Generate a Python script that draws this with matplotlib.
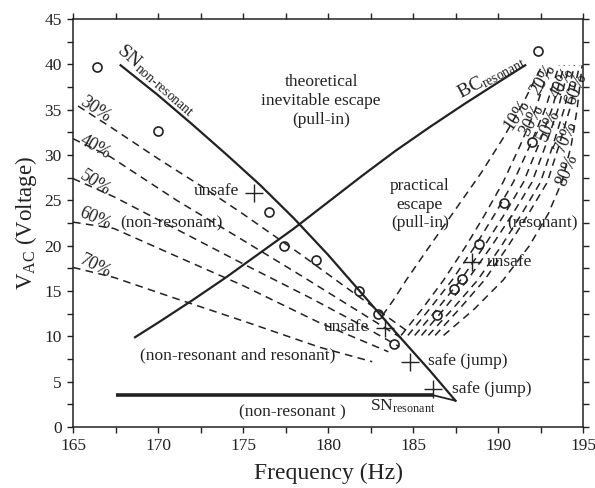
import matplotlib
matplotlib.use('Agg')
import matplotlib.pyplot as plt
from matplotlib.ticker import MultipleLocator

plt.rcParams['font.family'] = ['Liberation Serif', 'DejaVu Serif']
plt.rcParams['mathtext.fontset'] = 'custom'
plt.rcParams['mathtext.rm'] = 'Liberation Serif'
plt.rcParams['mathtext.it'] = 'Liberation Serif:italic'

# curvas teoricas
sn_nonres_f = [167.8, 170.0, 172.0, 174.0, 176.0, 178.0, 180.0, 182.0, 184.0, 186.0, 187.5]
sn_nonres_v = [39.9, 36.6, 33.4, 30.1, 26.7, 23.0, 19.0, 14.7, 10.4, 6.2, 2.9]

sn_res_f = [167.5, 186.2]
sn_res_v = [3.5, 3.5]
sn_tip_f = [186.2, 187.5]
sn_tip_v = [3.5, 2.9]

bc_f = [168.65, 170.0, 172.0, 174.0, 176.0, 178.0, 180.0, 182.0, 184.0, 186.0, 188.0, 190.0, 191.6]
bc_v = [9.9, 11.5, 13.95, 16.5, 19.2, 21.9, 24.8, 27.7, 30.5, 33.1, 35.6, 38.0, 39.9]

# familia no resonante (discontinuas)
izq = {
    '30%': ([165.3, 167.2, 170.0, 172.6, 175.0, 178.5, 181.5, 184.8],
            [35.4, 33.1, 29.6, 26.5, 23.5, 18.9, 14.8, 10.4]),
    '40%': ([165.0, 167.2, 171.1, 175.0, 178.5, 181.5, 184.5],
            [31.8, 29.8, 25.0, 20.6, 16.6, 13.1, 9.6]),
    '50%': ([165.0, 167.4, 171.0, 175.0, 179.0, 182.0, 184.2],
            [27.4, 25.4, 21.9, 18.0, 14.2, 11.2, 8.85]),
    '60%': ([165.0, 167.4, 171.0, 175.0, 179.5, 183.55],
            [22.6, 21.9, 18.9, 15.6, 11.5, 8.3]),
    '70%': ([165.0, 167.4, 171.0, 175.0, 179.5, 182.6],
            [17.6, 16.5, 14.2, 11.7, 8.8, 7.2]),
}
izq_lab_f = [166.3, 166.3, 166.3, 166.3, 166.3]
izq_lab_v = [35.0, 30.9, 26.9, 23.0, 17.75]
izq_lab_rot = [-34, -29, -33, -24, -27]

# familia resonante (discontinuas)
der_v = [10.1, 13.0, 16.2, 20.0, 23.5, 27.0, 31.0, 35.0, 39.9]
der = {
    '10%': ([183.2, 183.85, 184.6, 186.0, 187.5, 189.0, 190.35, 191.55, 192.6],
            [12.3, 14.0, 16.2, 20.0, 24.0, 28.0, 32.0, 36.0, 39.9]),
    '20%': ([184.3, 185.53, 186.8, 188.13, 189.25, 190.3, 191.29, 192.2, 193.05], der_v),
    '30%': ([184.7, 185.97, 187.3, 188.67, 189.82, 190.9, 191.87, 192.76, 193.6], der_v),
    '40%': ([185.1, 186.42, 187.8, 189.21, 190.39, 191.5, 192.36, 193.16, 193.9], der_v),
    '50%': ([185.5, 186.82, 188.2, 189.64, 190.86, 192.0, 192.79, 193.52, 194.2], der_v),
    '60%': ([185.9, 187.32, 188.8, 190.21, 191.39, 192.5, 193.22, 193.88, 194.5], der_v),
    '70%': ([186.3, 187.72, 189.2, 190.61, 191.79, 192.9, 193.58, 194.21, 194.8], der_v),
    '80%': ([186.8, 188.6, 190.3, 191.85, 192.95, 193.75, 194.3, 194.65, 194.95], der_v),
}
der_lab_f = [191.1, 192.66, 192.0, 193.8, 192.96, 194.6, 194.0, 194.07]
der_lab_v = [34.4, 38.3, 33.85, 37.9, 33.3, 37.3, 32.1, 28.3]
der_lab_rot = [56, 58, 62, 62, 65, 68, 67, 68]

# experimentos
exp_f = [166.4, 170.0, 176.5, 177.4, 179.3, 181.85, 182.96, 183.9, 186.4, 187.43, 187.9, 188.9, 190.37, 191.98, 192.37]
exp_v = [39.7, 32.6, 23.7, 19.95, 18.4, 15.0, 12.45, 9.1, 12.35, 15.2, 16.3, 20.2, 24.7, 31.45, 41.5]

cruz_f = [175.67, 183.35, 184.8, 186.2, 188.45]
cruz_v = [25.8, 10.9, 7.2, 4.15, 18.2]

col = '#222222'
fig = plt.figure(figsize=(5.95, 4.88), dpi=100)
ax = fig.add_axes([73/595, 61/488, 510/595, 408/488])

ax.plot(sn_nonres_f, sn_nonres_v, color=col, lw=1.6)
ax.plot(sn_res_f, sn_res_v, color=col, lw=2.6, solid_capstyle='butt')
ax.plot(sn_tip_f, sn_tip_v, color=col, lw=1.3)
ax.plot(bc_f, bc_v, color=col, lw=1.6)

for k in izq:
    ax.plot(izq[k][0], izq[k][1], color=col, lw=1.1, dashes=(5, 3.5))
for k in der:
    ax.plot(der[k][0], der[k][1], color=col, lw=1.1, dashes=(5, 3.5))

ax.plot(exp_f, exp_v, 'o', ms=6.5, mfc='none', mec=col, mew=1.2)
ax.plot(cruz_f, cruz_v, '+', ms=13, mec=col, mew=1.0)

fs = 12.5
pfs = 13
for i, k in enumerate(izq):
    ax.text(izq_lab_f[i], izq_lab_v[i], k, fontsize=pfs, rotation=izq_lab_rot[i],
            ha='center', va='center', color=col)
for i, k in enumerate(der):
    ax.text(der_lab_f[i], der_lab_v[i], k, fontsize=pfs, rotation=der_lab_rot[i],
            ha='center', va='center', color=col)

ax.text(169.9, 38.3, 'SN$_{\\mathrm{non‐resonant}}$', fontsize=14, rotation=-41,
        ha='center', va='center', color=col)
ax.text(189.6, 38.6, 'BC$_{\\mathrm{resonant}}$', fontsize=14, rotation=28,
        ha='center', va='center', color=col)
ax.text(179.6, 36.0, 'theoretical\ninevitable escape\n(pull-in)', fontsize=fs,
        ha='center', va='center', color=col, linespacing=1.25)
ax.text(185.4, 24.5, 'practical\nescape\n(pull-in)', fontsize=fs,
        ha='center', va='center', color=col, linespacing=1.2)
ax.text(192.6, 22.5, '(resonant)', fontsize=fs, ha='center', va='center', color=col)
ax.text(189.35, 18.2, 'unsafe', fontsize=fs, ha='left', va='center', color=col)
ax.text(182.4, 11.0, 'unsafe', fontsize=fs, ha='right', va='center', color=col)
ax.text(174.8, 26.0, 'unsafe', fontsize=fs, ha='right', va='center', color=col)
ax.text(185.9, 7.3, 'safe (jump)', fontsize=fs, ha='left', va='center', color=col)
ax.text(187.3, 4.2, 'safe (jump)', fontsize=fs, ha='left', va='center', color=col)
ax.text(170.8, 22.5, '(non-resonant)', fontsize=fs, ha='center', va='center', color=col)
ax.text(174.7, 7.9, '(non-resonant and resonant)', fontsize=fs, ha='center', va='center', color=col)
ax.text(177.9, 1.6, '(non-resonant )', fontsize=fs, ha='center', va='center', color=col)
ax.text(182.5, 2.3, 'SN$_{\\mathrm{resonant}}$', fontsize=12.5, ha='left', va='center', color=col)

ax.set_xlim(165, 195)
ax.set_ylim(0, 45)
ax.xaxis.set_major_locator(MultipleLocator(5))
ax.xaxis.set_minor_locator(MultipleLocator(2.5))
ax.yaxis.set_major_locator(MultipleLocator(5))
ax.yaxis.set_minor_locator(MultipleLocator(2.5))
ax.tick_params(which='both', direction='out', top=True, right=True, length=4.5,
               width=1.0, color=col, labelsize=12.5, labelcolor=col)
for s in ax.spines.values():
    s.set_color(col)
    s.set_linewidth(1.1)

ax.set_xlabel('Frequency (Hz)', fontsize=17, color=col, labelpad=6)
ax.set_ylabel('V$_{\\mathrm{AC}}$ (Voltage)', fontsize=16.5, color=col, labelpad=4)

fig.savefig('out.png', dpi=100)
